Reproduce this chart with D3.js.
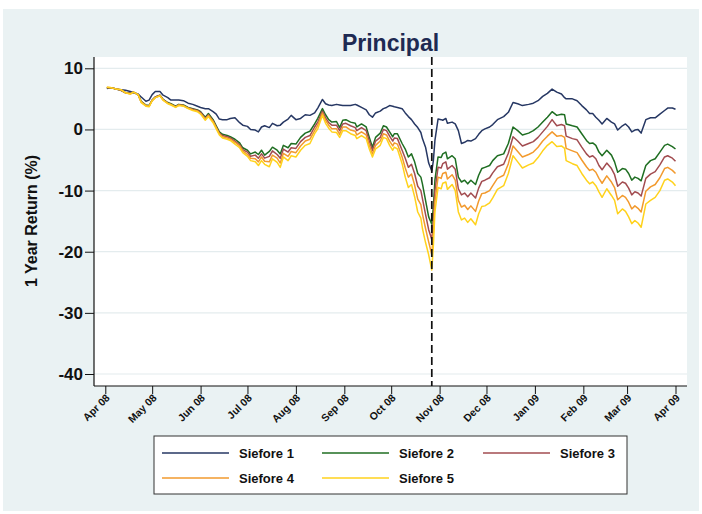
<!DOCTYPE html>
<html><head><meta charset="utf-8">
<script src="https://cdn.jsdelivr.net/npm/d3@7"></script>
<style>
body{margin:0;background:#fff}
svg{display:block}
text{font-family:Arial,"Liberation Sans",Helvetica,sans-serif}
</style>
</head><body>
<svg id="chart" width="702" height="514"></svg>
<script>
const title = "Principal";
const yTitle = "1 Year Return (%)";
const seriesNames = ["Siefore 1", "Siefore 2", "Siefore 3", "Siefore 4", "Siefore 5"];
const seriesColors = ["#263763", "#1f6e22", "#a24c50", "#f29a2e", "#ffd21c"];
const yTicks = [10, 0, -10, -20, -30, -40];
const monthTicks = ["2008-04-01","2008-05-01","2008-06-01","2008-07-01","2008-08-01","2008-09-01","2008-10-01","2008-11-01","2008-12-01","2009-01-01","2009-02-01","2009-03-01","2009-04-01"];
const eventDate = "2008-10-27";

const dates = [
"2008-04-02","2008-04-05","2008-04-08","2008-04-11","2008-04-14","2008-04-17","2008-04-19","2008-04-22","2008-04-24","2008-04-27","2008-04-29",
"2008-05-01","2008-05-03","2008-05-06","2008-05-08","2008-05-11","2008-05-13","2008-05-16","2008-05-18","2008-05-21","2008-05-24","2008-05-27","2008-05-30",
"2008-06-01","2008-06-04","2008-06-06","2008-06-09","2008-06-11","2008-06-13","2008-06-15","2008-06-18","2008-06-20","2008-06-23","2008-06-26","2008-06-28",
"2008-07-01","2008-07-03","2008-07-06","2008-07-08","2008-07-10","2008-07-12","2008-07-15","2008-07-17","2008-07-20","2008-07-22","2008-07-24","2008-07-27","2008-07-29",
"2008-08-01","2008-08-04","2008-08-07","2008-08-10","2008-08-13","2008-08-15","2008-08-18","2008-08-20","2008-08-22","2008-08-24","2008-08-27","2008-08-29","2008-08-31",
"2008-09-02","2008-09-05","2008-09-08","2008-09-09","2008-09-12","2008-09-15","2008-09-17","2008-09-19","2008-09-21","2008-09-24","2008-09-26","2008-09-28","2008-09-30",
"2008-10-02","2008-10-03","2008-10-05","2008-10-08","2008-10-10","2008-10-12","2008-10-14","2008-10-16","2008-10-18","2008-10-20","2008-10-21","2008-10-23","2008-10-25","2008-10-27","2008-10-28","2008-10-29","2008-10-31",
"2008-11-02","2008-11-03","2008-11-05","2008-11-06","2008-11-09","2008-11-11","2008-11-13","2008-11-15","2008-11-17","2008-11-19","2008-11-21","2008-11-24","2008-11-26","2008-11-28","2008-11-30",
"2008-12-03","2008-12-05","2008-12-08","2008-12-12","2008-12-15","2008-12-18","2008-12-21","2008-12-24","2008-12-28","2008-12-31",
"2009-01-03","2009-01-06","2009-01-09","2009-01-12","2009-01-15","2009-01-18","2009-01-20","2009-01-21","2009-01-25","2009-01-28","2009-01-31",
"2009-02-03","2009-02-05","2009-02-07","2009-02-09","2009-02-11","2009-02-13","2009-02-16","2009-02-19","2009-02-21","2009-02-23","2009-02-26","2009-02-28",
"2009-03-02","2009-03-04","2009-03-06","2009-03-08","2009-03-10","2009-03-13","2009-03-16","2009-03-19","2009-03-22","2009-03-25","2009-03-27","2009-03-30","2009-04-01"
];

const siefore1 = [
6.7,6.8,6.6,6.5,6.4,6.2,6.0,5.8,5.3,4.6,4.8,
5.7,6.2,6.2,5.6,5.2,4.8,4.8,4.8,4.7,4.3,4.1,3.8,
3.6,3.4,3.4,2.9,2.5,1.7,1.6,1.6,1.8,1.9,1.1,0.7,
0.5,0.0,-0.1,-0.4,0.4,0.6,0.3,1.0,0.6,0.7,1.2,1.7,2.3,
1.6,1.8,2.4,2.3,2.7,3.5,4.9,4.2,4.0,3.9,4.1,4.0,3.9,
3.9,3.9,4.1,4.0,3.6,3.2,2.4,2.0,2.7,3.0,3.4,3.6,3.9,
3.8,3.7,3.6,3.4,2.7,2.1,1.6,0.9,0.3,-0.5,-1.5,-2.9,-5.5,-6.8,-5.1,-1.8,1.7,
1.6,1.5,1.8,1.0,1.2,0.9,-0.2,-2.3,-2.1,-1.8,-1.9,-1.5,-0.8,-0.2,0.1,
0.4,0.8,1.6,2.1,2.8,4.4,4.2,3.9,4.1,4.3,
4.7,5.4,5.9,6.6,6.1,5.8,5.2,5.0,5.0,4.7,3.9,
3.2,2.6,2.6,2.0,1.5,0.9,1.8,1.2,0.9,-0.1,0.6,0.9,
0.4,-0.4,-0.1,0.0,-0.6,1.6,1.9,1.9,2.5,3.1,3.5,3.5,3.3
];
const siefore2 = [
6.8,6.8,6.6,6.4,6.0,5.9,6.1,5.7,4.6,4.0,3.9,
4.8,5.3,5.6,4.9,4.4,4.2,3.8,4.1,4.0,3.6,3.4,3.2,
2.9,2.0,2.6,1.6,0.6,-0.4,-0.8,-1.0,-1.2,-1.6,-2.2,-3.0,
-3.4,-4.0,-3.7,-4.1,-3.4,-4.2,-3.6,-2.9,-3.4,-4.0,-2.6,-3.0,-2.3,
-2.4,-1.3,-0.6,-0.3,0.9,1.8,3.4,2.4,1.6,1.2,1.3,0.3,1.5,
1.6,1.2,1.0,0.4,0.9,0.4,-1.3,-2.9,-1.3,-0.6,0.6,0.4,-0.4,
-1.2,-0.7,-0.7,-2.3,-3.2,-4.5,-4.0,-5.3,-7.2,-7.8,-8.9,-11.6,-14.3,-15.5,-12.7,-8.3,-4.5,
-4.6,-4.0,-3.7,-4.8,-4.3,-4.8,-7.8,-8.6,-8.3,-8.9,-8.3,-9.0,-7.5,-6.4,-6.2,
-5.9,-5.1,-4.3,-4.0,-2.3,0.4,-0.2,-0.9,-0.6,-0.2,
0.4,1.2,2.0,2.9,2.3,2.5,2.4,0.9,0.6,0.4,-0.7,
-1.8,-2.3,-2.2,-2.6,-3.7,-4.3,-3.4,-4.2,-5.3,-7.0,-6.4,-6.5,
-7.2,-8.3,-7.8,-8.0,-8.4,-5.9,-5.1,-4.8,-3.7,-2.6,-2.4,-2.8,-3.2
];
const siefore3 = [
6.8,6.8,6.6,6.4,6.0,5.9,6.1,5.7,4.5,3.9,3.8,
4.8,5.3,5.6,4.9,4.3,4.1,3.7,4.0,3.9,3.5,3.3,3.1,
2.8,1.8,2.4,1.4,0.4,-0.6,-1.0,-1.2,-1.4,-1.9,-2.5,-3.3,
-3.7,-4.4,-4.2,-4.7,-4.0,-4.7,-4.4,-3.5,-4.1,-4.7,-3.2,-3.7,-3.0,
-3.1,-2.0,-1.3,-1.0,0.4,1.2,3.0,1.9,1.1,0.7,0.7,-0.2,0.9,
1.0,0.6,0.3,-0.2,0.3,-0.2,-1.9,-3.4,-1.9,-1.3,0.0,-0.2,-1.1,
-1.9,-1.4,-1.5,-3.4,-4.7,-6.2,-5.7,-7.2,-9.3,-10.0,-11.3,-13.9,-16.4,-18.0,-14.8,-10.0,-6.2,
-6.3,-5.6,-5.3,-6.5,-5.9,-6.5,-9.7,-10.7,-10.4,-11.0,-10.4,-11.2,-9.6,-8.5,-8.3,
-7.9,-7.1,-6.1,-5.7,-3.9,-1.2,-1.9,-2.7,-2.3,-2.0,
-1.3,-0.4,0.5,1.6,0.6,0.8,0.6,-1.1,-1.5,-1.7,-2.9,
-4.0,-4.5,-4.3,-4.8,-5.9,-6.6,-5.5,-6.4,-7.4,-9.3,-8.6,-8.8,
-9.6,-10.7,-10.2,-10.4,-10.9,-8.0,-7.3,-6.9,-5.8,-4.5,-4.3,-4.7,-5.2
];
const siefore4 = [
6.9,6.8,6.6,6.5,6.0,5.8,6.1,5.7,4.5,3.9,3.8,
4.7,5.2,5.5,4.8,4.3,4.1,3.7,4.0,3.9,3.5,3.2,3.0,
2.6,1.7,2.3,1.3,0.3,-0.7,-1.2,-1.4,-1.6,-2.1,-2.7,-3.5,
-4.1,-4.7,-4.8,-5.3,-4.5,-5.2,-5.3,-4.2,-4.7,-5.5,-3.9,-4.4,-3.6,
-3.8,-2.7,-1.9,-1.6,-0.2,0.7,2.7,1.5,0.7,0.1,0.1,-0.8,0.4,
0.4,-0.1,-0.3,-0.9,-0.4,-0.9,-2.6,-4.0,-2.6,-1.9,-0.7,-0.9,-1.9,
-2.7,-2.2,-2.4,-4.5,-6.3,-7.8,-7.3,-9.1,-11.4,-12.3,-13.8,-16.2,-18.4,-20.5,-16.9,-11.8,-7.8,
-8.0,-7.2,-7.0,-8.1,-7.4,-8.3,-11.6,-12.7,-12.4,-13.1,-12.5,-13.4,-11.7,-10.5,-10.4,
-10.0,-9.2,-8.0,-7.5,-5.6,-2.7,-3.6,-4.5,-4.1,-3.7,
-2.9,-1.9,-1.1,-0.4,-1.1,-1.0,-1.3,-3.1,-3.5,-3.8,-5.0,
-6.1,-6.7,-6.5,-7.0,-8.0,-8.8,-7.6,-8.6,-9.5,-11.5,-10.8,-11.1,
-11.9,-13.0,-12.5,-12.9,-13.5,-10.1,-9.4,-9.0,-7.9,-6.4,-6.2,-6.7,-7.2
];
const siefore5 = [
6.9,6.8,6.6,6.5,6.0,5.8,6.1,5.7,4.4,3.8,3.7,
4.7,5.2,5.5,4.8,4.2,4.0,3.6,3.9,3.8,3.4,3.1,2.9,
2.5,1.5,2.1,1.1,0.1,-0.9,-1.4,-1.6,-1.8,-2.4,-3.0,-3.8,
-4.4,-5.1,-5.3,-5.9,-5.1,-5.7,-6.1,-4.8,-5.4,-6.2,-4.5,-5.1,-4.3,
-4.5,-3.4,-2.6,-2.3,-0.7,0.1,2.3,1.0,0.2,-0.4,-0.5,-1.3,-0.2,
-0.2,-0.7,-1.0,-1.5,-1.0,-1.5,-3.2,-4.5,-3.2,-2.6,-1.3,-1.5,-2.6,
-3.4,-2.9,-3.2,-5.6,-7.8,-9.5,-9.0,-11.0,-13.5,-14.5,-16.2,-18.5,-20.5,-23.0,-19.0,-13.5,-9.5,
-9.7,-8.8,-8.6,-9.8,-9.0,-10.0,-13.5,-14.8,-14.5,-15.2,-14.6,-15.6,-13.8,-12.6,-12.5,
-12.0,-11.2,-9.8,-9.2,-7.2,-4.3,-5.3,-6.3,-5.8,-5.5,
-4.6,-3.5,-2.6,-2.0,-2.8,-2.7,-3.1,-5.1,-5.6,-5.9,-7.2,
-8.3,-8.9,-8.6,-9.2,-10.2,-11.1,-9.7,-10.8,-11.6,-13.8,-13.0,-13.4,
-14.3,-15.4,-14.9,-15.3,-16.0,-12.2,-11.6,-11.1,-10.0,-8.3,-8.1,-8.6,-9.2
];
const seriesValues = [siefore1, siefore2, siefore3, siefore4, siefore5];

const svg = d3.select("#chart");
const parse = d3.utcParse("%Y-%m-%d");
const plot = {left: 94, right: 687, top: 57, bottom: 386};

svg.append("rect").attr("x", 3).attr("y", 9).attr("width", 696).attr("height", 502).attr("fill", "#eaf2f3");
svg.append("rect").attr("x", plot.left).attr("y", plot.top)
  .attr("width", plot.right - plot.left).attr("height", plot.bottom - plot.top).attr("fill", "#ffffff");

const x = d3.scaleUtc().domain([parse(monthTicks[0]), parse(monthTicks[monthTicks.length - 1])]).range([105.3, 675.5]);
const y = d3.scaleLinear().domain([-40, 10]).range([374, 68.3]);

// gridlines
svg.append("g").selectAll("line").data(yTicks).join("line")
  .attr("x1", plot.left).attr("x2", plot.right)
  .attr("y1", d => y(d)).attr("y2", d => y(d))
  .attr("stroke", "#e4ecee").attr("stroke-width", 1.2);

// series
const line = d3.line().x((d, i) => x(parse(dates[i]))).y(d => y(d));
seriesValues.forEach((vals, k) => {
  svg.append("path").datum(vals).attr("d", line)
    .attr("fill", "none").attr("stroke", seriesColors[k]).attr("stroke-width", 1.5)
    .attr("stroke-linejoin", "round");
});

// event line
svg.append("line")
  .attr("x1", x(parse(eventDate))).attr("x2", x(parse(eventDate)))
  .attr("y1", plot.top).attr("y2", plot.bottom)
  .attr("stroke", "#111").attr("stroke-width", 1.7).attr("stroke-dasharray", "8,4");

// y axis
const yAxis = svg.append("g").attr("transform", `translate(${plot.left},0)`)
  .call(d3.axisLeft(y).tickValues(yTicks).tickSize(9).tickPadding(2).tickSizeOuter(0)
    .tickFormat(d => String(d)));
yAxis.select(".domain").remove();
yAxis.selectAll(".tick line").attr("stroke", "#111");
yAxis.selectAll("text").attr("font-size", 17).attr("font-weight", "bold").attr("fill", "#111")
  .attr("font-family", "Arial, 'Liberation Sans', sans-serif");
svg.append("line").attr("x1", plot.left).attr("x2", plot.left).attr("y1", plot.top).attr("y2", plot.bottom)
  .attr("stroke", "#111").attr("stroke-width", 1.2);

// x axis
const xAxis = svg.append("g").attr("transform", `translate(0,${plot.bottom})`)
  .call(d3.axisBottom(x).tickValues(monthTicks.map(parse)).tickSize(8).tickSizeOuter(0)
    .tickFormat(d3.utcFormat("%b %y")));
xAxis.select(".domain").remove();
xAxis.selectAll(".tick line").attr("stroke", "#111");
xAxis.selectAll("text")
  .attr("font-size", 10.5).attr("font-weight", "bold").attr("fill", "#111")
  .attr("font-family", "Arial, 'Liberation Sans', sans-serif")
  .attr("text-anchor", "end").attr("x", 0).attr("y", 0).attr("dy", "0.35em")
  .attr("transform", "translate(2,10) rotate(-45)");
svg.append("line").attr("x1", plot.left).attr("x2", plot.right).attr("y1", plot.bottom).attr("y2", plot.bottom)
  .attr("stroke", "#111").attr("stroke-width", 1.2);

// titles
svg.append("text").attr("x", 390.5).attr("y", 51).attr("text-anchor", "middle")
  .attr("font-size", 23).attr("font-weight", "bold").attr("fill", "#1e2a52").text(title);
svg.append("text").attr("transform", "translate(37,221) rotate(-90)").attr("text-anchor", "middle")
  .attr("font-size", 16).attr("font-weight", "bold").attr("fill", "#111").text(yTitle);

// legend
const lg = svg.append("g");
lg.append("rect").attr("x", 154).attr("y", 436).attr("width", 473).attr("height", 58)
  .attr("fill", "#fff").attr("stroke", "#333").attr("stroke-width", 1);
const colX = [162, 322, 483], rowY = [453, 478];
seriesNames.forEach((name, k) => {
  const cx = colX[k % 3], cy = rowY[Math.floor(k / 3)];
  lg.append("line").attr("x1", cx).attr("x2", cx + 67).attr("y1", cy).attr("y2", cy)
    .attr("stroke", seriesColors[k]).attr("stroke-width", 1.6);
  lg.append("text").attr("x", cx + 77).attr("y", cy).attr("dy", "0.35em")
    .attr("font-size", 13).attr("font-weight", "bold").attr("fill", "#111").text(name);
});
</script>
</body></html>
